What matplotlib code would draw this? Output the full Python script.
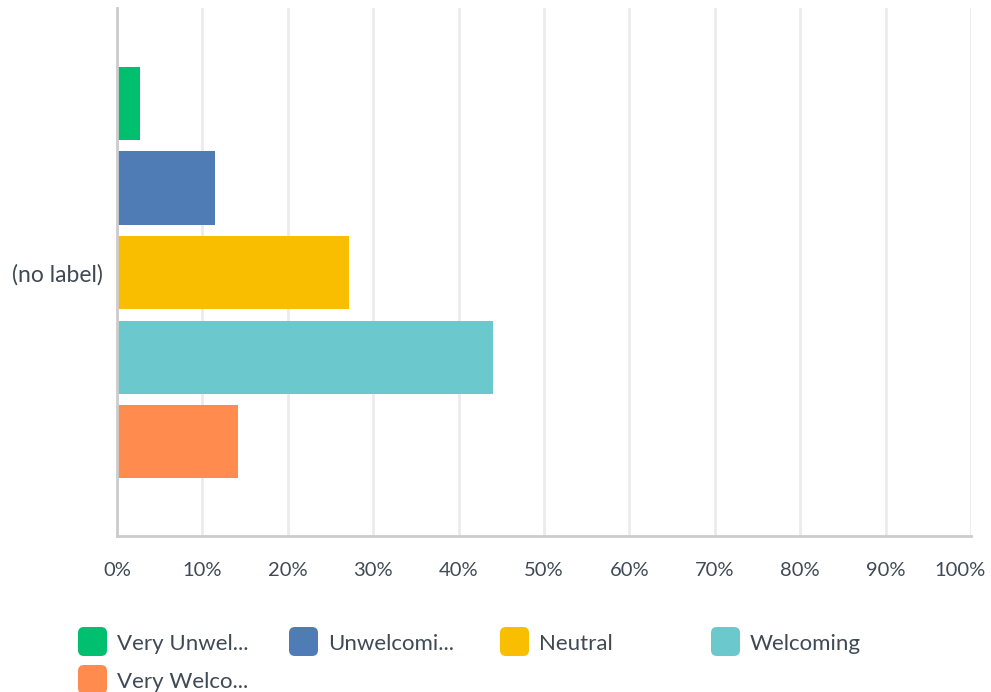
import matplotlib
matplotlib.use("Agg")
import matplotlib.pyplot as plt
from matplotlib.patches import FancyBboxPatch
from matplotlib.transforms import ScaledTranslation

categories = ["Very Unwelcoming", "Unwelcoming", "Neutral", "Welcoming", "Very Welcoming"]
legend_labels = ["Very Unwel...", "Unwelcomi...", "Neutral", "Welcoming", "Very Welco..."]
values = [2.7, 11.5, 27.2, 44.0, 14.2]
colors = ["#00bf6f", "#507cb6", "#f9be00", "#6bc8cd", "#ff8b4f"]
xticks = list(range(0, 101, 10))
xtick_labels = [f"{t}%" for t in xticks]
row_label = "(no label)"

plt.rcParams['font.family'] = ['Lato', 'DejaVu Sans']
W, H = 991, 692
fig = plt.figure(figsize=(W / 100, H / 100), dpi=100)
ax = fig.add_axes([117 / W, 1 - 536 / H, (971 - 117) / W, (536 - 8) / H])

positions = list(range(len(values)))
ax.barh(positions, values, height=0.864, color=colors, zorder=3)
ax.set_ylim(5.118, -1.13)
ax.set_xlim(0, 100)

ax.set_xticks(xticks)
ax.set_xticklabels(xtick_labels, fontsize=14.5, color="#3f4a55")
ax.set_yticks([2])
ax.set_yticklabels([row_label], fontsize=16.5, color="#3f4a55")
ax.tick_params(axis="both", length=0)
ax.tick_params(axis="x", pad=19)
ax.tick_params(axis="y", pad=10)

# shift the last tick label left so it stays inside the figure
last = ax.get_xticklabels()[-1]
last.set_transform(last.get_transform() + ScaledTranslation(-11 / 100, 0, fig.dpi_scale_trans))

ax.grid(axis="x", color="#ebebeb", linewidth=2, zorder=0)
ax.grid(axis="y", visible=False)
for s in ["top", "right"]:
    ax.spines[s].set_visible(False)
for s in ["left", "bottom"]:
    ax.spines[s].set_color("#cccccc")
    ax.spines[s].set_linewidth(2)
    ax.spines[s].set_zorder(4)

# Legend (manual, fixed column layout)
col_x = [78, 289, 500, 711]
row_y = [627, 665]
sq = 29
for i, (lab, col) in enumerate(zip(legend_labels, colors)):
    c = i % 4
    r = i // 4
    x0 = col_x[c]
    y0 = row_y[r]
    patch = FancyBboxPatch((x0 / W, 1 - (y0 + sq) / H), sq / W, sq / H,
                           boxstyle="round,pad=0,rounding_size=0.006",
                           transform=fig.transFigure, facecolor=col,
                           edgecolor="none", mutation_aspect=W / H)
    fig.add_artist(patch)
    fig.text((x0 + 39) / W, 1 - (y0 + sq / 2 + 2) / H, lab, fontsize=16,
             color="#3f4a55", va="center", ha="left")

fig.savefig("out.png", dpi=100)
